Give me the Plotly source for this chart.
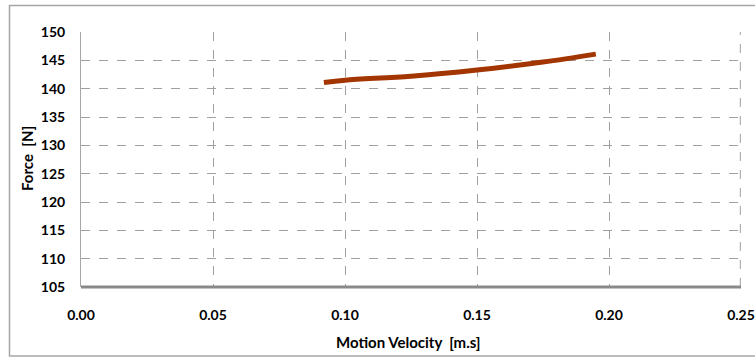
import plotly.graph_objects as go

velocity = [0.092, 0.100, 0.125, 0.150, 0.175, 0.195]
force = [141.1, 141.5, 142.2, 143.3, 144.7, 146.1]
x_ticks = [0.00, 0.05, 0.10, 0.15, 0.20, 0.25]
y_ticks = [105, 110, 115, 120, 125, 130, 135, 140, 145, 150]
x_title = "Motion Velocity  [m.s]"
y_title = "Force  [N]"

W, H = 755, 358
L, R, T, B = 81, 14, 32, 71
pw, ph = W - L - R, H - T - B

def px(x):
    return (x - L) / pw

def py(y):
    return (H - B - y) / ph

fig = go.Figure()
fig.add_trace(go.Scatter(
    x=velocity, y=force, mode="lines",
    line=dict(color="#A33500", width=5, shape="spline"),
    showlegend=False, hoverinfo="skip"))

fam = "Lato, 'Open Sans', sans-serif"
fnt = dict(family=fam, size=14, color="#000000")

fig.update_layout(
    width=W, height=H,
    margin=dict(l=L, r=R, t=T, b=B),
    paper_bgcolor="white", plot_bgcolor="white",
    font=fnt,
    xaxis=dict(
        range=[0, 0.25], tickvals=x_ticks,
        ticktext=[f"<b>{v:.2f}</b>" for v in x_ticks],
        showgrid=True, gridcolor="#A0A0A0", griddash="dash", gridwidth=1,
        showline=False, zeroline=False, ticks="", ticklabelstandoff=18,
        automargin=False,
    ),
    yaxis=dict(
        range=[105, 150], tickvals=y_ticks,
        ticktext=[f"<b>{v}</b>" for v in y_ticks],
        showgrid=True, gridcolor="#A0A0A0", griddash="dash", gridwidth=1,
        showline=True, linecolor="#A6A6A6", linewidth=1,
        zeroline=False, ticks="", ticklabelstandoff=12,
        automargin=False,
    ),
    annotations=[
        dict(text=f"<b>{x_title}</b>", xref="paper", yref="paper",
             x=px(408), y=py(342), showarrow=False,
             xanchor="center", yanchor="middle", font=dict(size=15, family=fam)),
        dict(text=f"<b>{y_title}</b>", xref="paper", yref="paper",
             x=px(27), y=py(159), showarrow=False, textangle=-90,
             xanchor="center", yanchor="middle", font=dict(size=15, family=fam)),
    ],
    shapes=[
        dict(type="line", xref="paper", yref="paper", x0=0.999, x1=0.999, y0=0, y1=1,
             line=dict(color="#A0A0A0", width=1, dash="dash")),
        dict(type="line", xref="paper", yref="paper", x0=0, x1=1, y0=0, y1=0,
             line=dict(color="#898989", width=3)),
        dict(type="rect", xref="paper", yref="paper",
             x0=px(9.5), x1=px(760), y0=py(356), y1=py(5.5),
             line=dict(color="#A6A6A6", width=1.5), layer="below"),
    ],
)

fig.write_html("out.html", config={"displayModeBar": False},
               post_script="document.body.style.margin='0';")
